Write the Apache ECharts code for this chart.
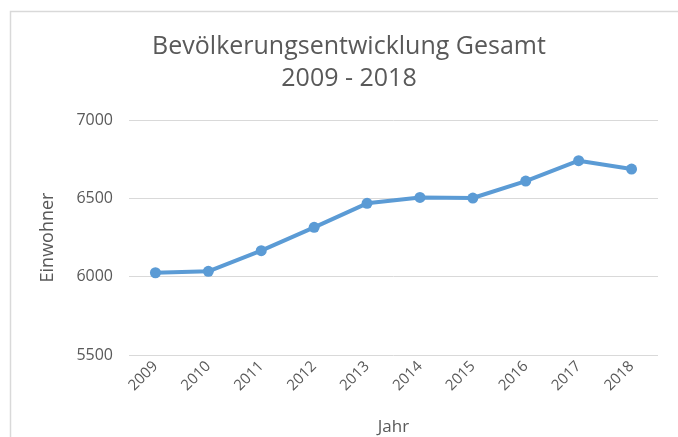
<!DOCTYPE html>
<html><head><meta charset="utf-8">
<script src="https://cdn.jsdelivr.net/npm/echarts@6/dist/echarts.min.js"></script>
<style>html,body{margin:0;padding:0;background:#fff}#c{width:678px;height:437px}</style>
</head><body><div id="c"></div>
<script>
const years = ['2009','2010','2011','2012','2013','2014','2015','2016','2017','2018'];
const einwohner = [6025, 6034, 6166, 6315, 6468, 6506, 6502, 6610, 6740, 6687];
const yTicks = [5500, 6000, 6500, 7000];
const titleLines = ['Bevölkerungsentwicklung Gesamt', '2009 - 2018'];

const font = 'Open Sans';
const chart = echarts.init(document.getElementById('c'));
chart.setOption({
  animation: false,
  graphic: [{
    type: 'rect', shape: {x: 10.5, y: 11.5, width: 700, height: 500},
    style: {fill: 'none', stroke: '#d9d9d9', lineWidth: 1.5}
  }],
  title: {
    text: titleLines.join('\n'), left: 344, textAlign: 'center', top: 26,
    textStyle: {fontFamily: font, fontSize: 25, fontWeight: 'normal', color: '#595959', lineHeight: 32}
  },
  grid: {left: 129, right: 20, top: 120, bottom: 82, containLabel: false, outerBoundsMode: 'none'},
  xAxis: {
    type: 'category', data: years, boundaryGap: true,
    name: 'Jahr', nameLocation: 'middle', nameGap: 64,
    nameTextStyle: {fontFamily: font, fontSize: 17, color: '#595959'},
    axisLine: {show: false}, axisTick: {show: false},
    axisLabel: {rotate: 45, fontFamily: font, fontSize: 15, color: '#595959', margin: 9}
  },
  yAxis: {
    type: 'value', min: yTicks[0], max: yTicks[yTicks.length-1], interval: 500,
    name: 'Einwohner', nameLocation: 'middle', nameGap: 72, nameRotate: 90,
    nameTextStyle: {fontFamily: font, fontSize: 18, color: '#595959'},
    axisLine: {show: false}, axisTick: {show: false},
    axisLabel: {fontFamily: font, fontSize: 16, color: '#595959', margin: 16, formatter: v => String(v)},
    splitLine: {lineStyle: {color: '#d9d9d9', width: 1}}
  },
  series: [{
    type: 'line', data: einwohner, symbol: 'circle', symbolSize: 11,
    lineStyle: {color: '#5b9bd5', width: 4},
    itemStyle: {color: '#5b9bd5'}
  }]
});
</script></body></html>
